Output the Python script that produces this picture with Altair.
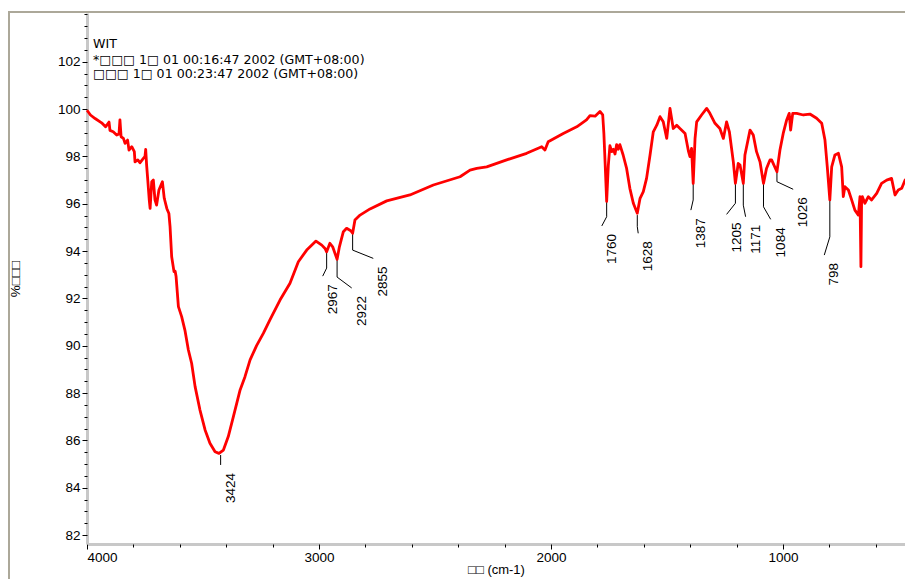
import altair as alt
import pandas as pd

# ---- spectrum (wavenumber cm-1, %T) ----
wavenumber = [4000, 3985, 3965, 3937, 3920, 3905, 3901, 3887, 3872, 3862, 3858, 3853, 3843, 3836,
              3825, 3819, 3807, 3796, 3793, 3781, 3772, 3757, 3750, 3747, 3743, 3738, 3732, 3728,
              3721, 3714, 3707, 3700, 3690, 3675, 3667, 3656, 3647, 3642, 3635, 3625, 3620, 3616,
              3606, 3592, 3578, 3563, 3549, 3534, 3513, 3491, 3470, 3448, 3431, 3412, 3391, 3369,
              3340, 3319, 3297, 3269, 3240, 3211, 3168, 3125, 3089, 3053, 3013, 2988, 2974, 2967,
              2953, 2941, 2922, 2912, 2895, 2881, 2863, 2855, 2845, 2823, 2780, 2708, 2608, 2507,
              2392, 2349, 2320, 2277, 2191, 2105, 2040, 2026, 2012, 1947, 1889, 1847, 1832, 1810,
              1789, 1777, 1772, 1766, 1760, 1753, 1746, 1738, 1731, 1724, 1717, 1710, 1703, 1689,
              1674, 1660, 1645, 1628, 1616, 1602, 1588, 1573, 1559, 1544, 1530, 1516, 1501, 1487,
              1473, 1458, 1444, 1422, 1407, 1401, 1394, 1387, 1379, 1372, 1351, 1329, 1315, 1293,
              1272, 1257, 1243, 1231, 1214, 1205, 1193, 1185, 1171, 1164, 1142, 1128, 1114, 1099,
              1084, 1071, 1056, 1049, 1026, 1013, 999, 984, 973, 967, 958, 941, 912, 884, 855, 833,
              819, 809, 798, 790, 776, 761, 747, 740, 733, 718, 704, 690, 675, 668, 664, 661, 658,
              647, 632, 618, 596, 575, 553, 532, 517, 503, 488, 474, 460, 445]
transmittance = [99.95, 99.75, 99.6, 99.42, 99.25, 99.45, 99.1, 99.04, 98.9, 98.95, 99.54, 98.83, 98.76, 98.55,
                 98.69, 98.27, 98.41, 98.2, 97.77, 97.85, 97.73, 97.92, 98.0, 98.3, 97.63, 97.0, 96.2, 95.8,
                 96.93, 97.0, 96.16, 95.94, 96.58, 96.93, 96.23, 95.8, 95.59, 95.03, 93.76, 93.13, 93.15, 92.92,
                 91.65, 91.23, 90.66, 89.82, 89.26, 88.27, 87.28, 86.44, 85.88, 85.52, 85.45, 85.59, 86.16, 87.0,
                 88.13, 88.69, 89.4, 90.0, 90.52, 91.1, 91.93, 92.64, 93.55, 94.04, 94.42, 94.25, 94.11, 93.97,
                 94.33, 94.18, 93.65, 94.18, 94.82, 94.96, 94.86, 94.75, 95.31, 95.52, 95.78, 96.12, 96.37, 96.79,
                 97.14, 97.42, 97.49, 97.56, 97.85, 98.13, 98.41, 98.27, 98.62, 98.97, 99.25, 99.54, 99.72, 99.7,
                 99.9, 99.75, 98.97, 97.56, 96.1, 97.6, 98.45, 98.2, 98.3, 98.1, 98.5, 98.3, 98.5, 98.06,
                 97.49, 96.65, 96.02, 95.6, 96.23, 96.51, 97.07, 98.06, 99.04, 99.32, 99.68, 99.46, 98.76, 100.03,
                 99.18, 99.32, 99.18, 98.97, 98.2, 97.99, 98.34, 96.86, 98.76, 99.46, 99.75, 100.03, 99.82, 99.4,
                 99.18, 98.76, 99.46, 99.04, 97.77, 96.86, 97.7, 97.63, 96.86, 98.06, 99.11, 98.9, 98.2, 97.77,
                 96.86, 97.49, 97.85, 97.85, 97.35, 98.27, 98.97, 99.54, 99.82, 99.11, 99.82, 99.82, 99.75, 99.79, 99.61, 99.4,
                 98.69, 97.56, 96.16, 97.56, 98.06, 98.13, 97.56, 96.3, 96.72, 96.58, 96.16, 95.73, 95.52, 96.3, 93.34, 96.2, 96.3,
                 96.02, 96.3, 96.16, 96.44, 96.86, 97.0, 97.07, 96.37, 96.58, 96.65, 96.99, 97.14, 96.72]

# ---- peak annotations (data units) ----
peak_wn = [3424, 2967, 2922, 2855, 1760, 1628, 1387, 1205, 1171, 1084, 1026, 798]
peak_t = [85.38, 93.96, 93.66, 94.76, 96.16, 95.52, 96.93, 96.93, 96.93, 96.86, 97.35, 96.16]
bend_t = [84.96, 93.28, 92.90, 94.04, 95.45, 95.03, 96.16, 96.02, 95.94, 95.87, 96.93, 94.60]
end_wn = [3424, 2984, 2859, 2766, 1781, 1624, 1397, 1243, 1161, 1053, 956, 822]
end_t = [84.96, 92.94, 92.44, 93.69, 95.06, 94.75, 95.73, 95.55, 95.45, 95.34, 96.61, 93.83]

header_lines = ["WIT",
                "*\u25a1\u25a1\u25a1 1\u25a1 01 00:16:47 2002 (GMT+08:00)",
                "\u25a1\u25a1\u25a1 1\u25a1 01 00:23:47 2002 (GMT+08:00)"]

x_major = [4000, 3000, 2000, 1000]
x_minor = list(range(4000, 399, -200))
y_major = list(range(82, 103, 2))
y_minor = [82 + 0.5 * i for i in range(45)]

x_title = "\u25a1\u25a1 (cm-1)"
y_title = "%\u25a1\u25a1\u25a1"

FONT = "Liberation Sans"
HFONT = "DejaVu Sans"
FS = 13.5
W, H = 818, 531

spec = pd.DataFrame({"wn": wavenumber, "t": transmittance})

rows = []
for i, w in enumerate(peak_wn):
    rows.append({"pk": i, "o": 0, "wn": w, "t": peak_t[i]})
    rows.append({"pk": i, "o": 1, "wn": w, "t": bend_t[i]})
    rows.append({"pk": i, "o": 2, "wn": end_wn[i], "t": end_t[i]})
leaders = pd.DataFrame(rows)
labels = pd.DataFrame({"wn": end_wn, "t": end_t, "lab": [str(p) for p in peak_wn]})

xs = alt.Scale(domain=[474, 4000], reverse=True, nice=False, zero=False)
ys = alt.Scale(domain=[81.62, 104.06], nice=False, zero=False)

main_x = alt.Axis(values=x_major, format="d", tickSize=5, tickColor="black", tickWidth=1,
                  domainColor="#c8c8c8", domainWidth=3, labelFlush=True, labelPadding=1,
                  labelFont=FONT, labelFontSize=FS, labelColor="black", grid=False,
                  title=x_title, titleFont=FONT, titleFontSize=13, titleFontWeight="normal",
                  titleColor="black", titlePadding=0, orient="bottom", labelOverlap=False)
main_y = alt.Axis(values=y_major, format="d", tickSize=5, tickColor="black", tickWidth=1,
                  domainColor="#c8c8c8", domainWidth=3, labelPadding=2,
                  labelFont=FONT, labelFontSize=FS, labelColor="black", grid=False,
                  title=y_title, titleFont=FONT, titleFontSize=FS, titleFontWeight="normal",
                  titleColor="black", titlePadding=35, orient="left", labelOverlap=False)
minor_x = alt.Axis(values=x_minor, tickSize=3, tickColor="black", tickWidth=1, labels=False,
                   domain=False, grid=False, orient="bottom")
minor_y = alt.Axis(values=y_minor, tickSize=3, tickColor="black", tickWidth=1, labels=False,
                   domain=False, grid=False, orient="left")

curve = alt.Chart(spec).transform_window(idx="row_number()").mark_line(
    color="#ff0000", strokeWidth=2.8, strokeJoin="round"
).encode(
    x=alt.X("wn:Q", scale=xs, axis=main_x),
    y=alt.Y("t:Q", scale=ys, axis=main_y),
    order=alt.Order("idx:Q"),
)

minor = alt.Chart(spec).mark_point(opacity=0).encode(
    x=alt.X("wn:Q", scale=xs, axis=minor_x, title=None),
    y=alt.Y("t:Q", scale=ys, axis=minor_y, title=None),
)

lead = alt.Chart(leaders).mark_line(color="black", strokeWidth=1).encode(
    x=alt.X("wn:Q", scale=xs, axis=None),
    y=alt.Y("t:Q", scale=ys, axis=None),
    detail="pk:N",
    order="o:Q",
)

lab = alt.Chart(labels).mark_text(angle=270, align="right", baseline="top", dx=-8, dy=3,
                                  font=FONT, fontSize=FS, color="black").encode(
    x=alt.X("wn:Q", scale=xs, axis=None),
    y=alt.Y("t:Q", scale=ys, axis=None),
    text="lab:N",
)

head_layers = []
for k, line in enumerate(header_lines):
    head_layers.append(
        alt.Chart(pd.DataFrame({"s": [line]})).mark_text(
            align="left", baseline="top", font=HFONT, fontSize=12.6, color="black"
        ).encode(x=alt.value(6), y=alt.value([24.5, 40.5, 54.5][k]), text="s:N")
    )

frame = alt.Chart(pd.DataFrame({"a": [0]})).mark_rect(
    fillOpacity=0, stroke="#aca899", strokeWidth=2
).encode(x=alt.value(-78), x2=alt.value(1100), y=alt.value(-1), y2=alt.value(900))

chart = alt.layer(frame, lead, curve, minor, lab, *head_layers).resolve_axis(
    x="independent", y="independent"
).properties(
    width=W, height=H,
    autosize=alt.AutoSizeParams(type="none"),
    padding={"left": 79, "top": 5, "right": 0, "bottom": 36},
    background="white",
).configure_view(strokeWidth=0)

chart.save("out.html", embed_options={"renderer": "svg", "actions": False})
